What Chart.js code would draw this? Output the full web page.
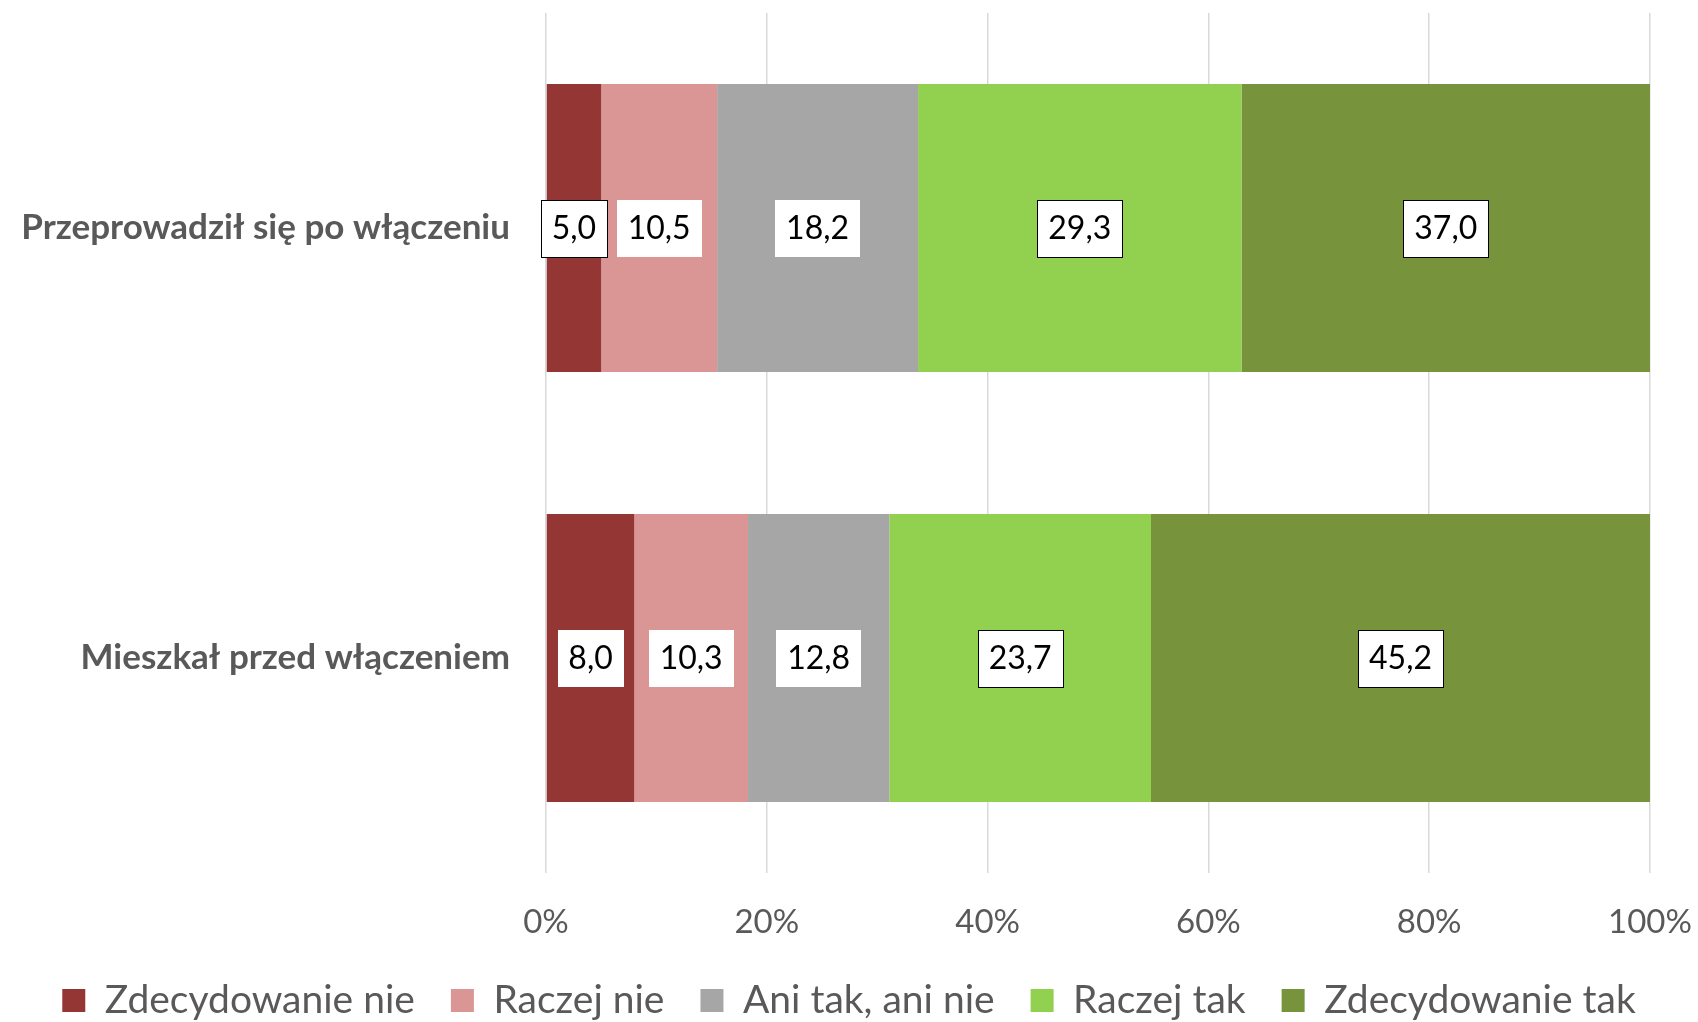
<!DOCTYPE html>
<html>
<head>
<meta charset="utf-8">
<script src="https://cdn.jsdelivr.net/npm/chart.js@4"></script>
<style>
  html, body { margin: 0; padding: 0; background: #fff; }
  #wrap { width: 1698px; height: 1022px; }
</style>
</head>
<body>
<div id="wrap"><canvas id="mychart" width="1698" height="1022"></canvas></div>
<script>
// categories and series (values in %)
var categories = ["Przeprowadził się po włączeniu", "Mieszkał przed włączeniem"];
var seriesNames = ["Zdecydowanie nie", "Raczej nie", "Ani tak, ani nie", "Raczej tak", "Zdecydowanie tak"];
var zdecydowanieNie = [5.0, 8.0];
var raczejNie = [10.5, 10.3];
var aniTakAniNie = [18.2, 12.8];
var raczejTak = [29.3, 23.7];
var zdecydowanieTak = [37.0, 45.2];
var xTicks = [0, 20, 40, 60, 80, 100];

var colors = ["#943634", "#D99694", "#A6A6A6", "#92D050", "#77933C"];
// which label boxes get a thin black outline (as in the original)
var outlined = [[true, false], [false, false], [false, false], [true, true], [true, true]];

var font = "Lato, 'Open Sans', sans-serif";

// draws the value boxes in the middle of every segment
var valueBoxes = {
  id: 'valueBoxes',
  afterDatasetsDraw: function(chart) {
    var ctx = chart.ctx;
    ctx.save();
    ctx.font = "32px " + font;
    ctx.textAlign = "center";
    ctx.textBaseline = "middle";
    chart.data.datasets.forEach(function(ds, i) {
      var meta = chart.getDatasetMeta(i);
      meta.data.forEach(function(bar, j) {
        var txt = ds.data[j].toFixed(1).replace('.', ',');
        var cx = (bar.x + bar.base) / 2;
        var cy = bar.y;
        var w = Math.round(ctx.measureText(txt).width + 22);
        var h = 57;
        var left = Math.round(cx - w / 2), top = Math.round(cy - h / 2);
        ctx.fillStyle = "#fff";
        ctx.fillRect(left, top, w, h);
        if (outlined[i][j]) {
          ctx.strokeStyle = "#000";
          ctx.lineWidth = 1;
          ctx.strokeRect(left + 0.5, top + 0.5, w, h);
        }
        ctx.fillStyle = "#000";
        ctx.fillText(txt, cx, cy + 1);
      });
    });
    ctx.restore();
  }
};

var values = [zdecydowanieNie, raczejNie, aniTakAniNie, raczejTak, zdecydowanieTak];
var datasets = [];
for (var i = 0; i < seriesNames.length; i++) {
  datasets.push({
    label: seriesNames[i],
    data: values[i],
    backgroundColor: colors[i],
    borderWidth: 0,
    barPercentage: 0.67,
    categoryPercentage: 1.0
  });
}

var ctx = document.getElementById("mychart");
var myBarChart = new Chart(ctx, {
  type: 'bar',
  data: { labels: categories, datasets: datasets },
  plugins: [valueBoxes],
  options: {
    indexAxis: 'y',
    responsive: false,
    animation: false,
    layout: { padding: { top: 13, right: 0, left: 0, bottom: -8 } },
    scales: {
      x: {
        stacked: true,
        min: 0,
        max: 100,
        afterBuildTicks: function(scale) {
          scale.ticks = xTicks.map(function(v) { return { value: v }; });
        },
        afterFit: function(scale) {
          scale.height = 72;
          scale.paddingLeft = 0;
          scale.paddingRight = 48;
        },
        grid: { color: "#D9D9D9", lineWidth: 1.5, drawTicks: false },
        border: { display: false },
        ticks: {
          padding: 30,
          color: "#595959",
          font: { family: font, size: 33 },
          callback: function(v) { return v + "%"; }
        }
      },
      y: {
        stacked: true,
        afterFit: function(scale) {
          scale.width = 546;
          // labels sit in the middle of the bands: no extra vertical padding
          scale.paddingTop = 0;
          scale.paddingBottom = 0;
        },
        grid: { display: false },
        border: { display: false },
        ticks: {
          padding: 28,
          color: "#595959",
          font: { family: font, size: 35, weight: "bold" }
        }
      }
    },
    plugins: {
      legend: {
        position: 'bottom',
        labels: {
          boxWidth: 23,
          boxHeight: 23,
          padding: 36,
          color: "#595959",
          font: { family: font, size: 39 }
        }
      },
      tooltip: { enabled: false }
    }
  }
});
</script>
</body>
</html>
